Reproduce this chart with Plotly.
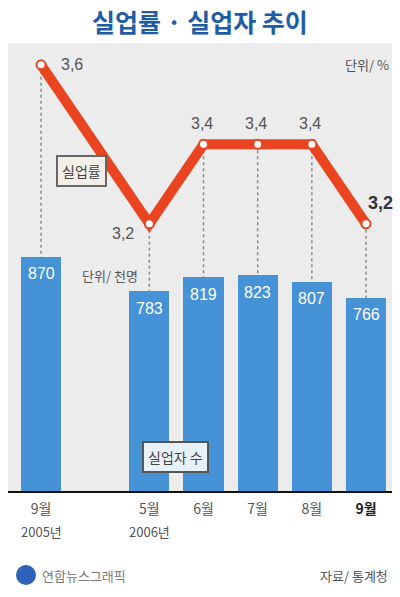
import plotly.graph_objects as go

# ---- data ----
positions = [0, 2, 3, 4, 5, 6]
month_labels = ["9월", "5월", "6월", "7월", "8월", "<b><span style='color:#222222'>9월</span></b>"]
year_labels = ["2005년", "2006년", "", "", "", ""]
unemployed = [870, 783, 819, 823, 807, 766]          # 단위: 천명
rate = [3.6, 3.2, 3.4, 3.4, 3.4, 3.2]                  # 단위: %
rate_text = ["3,6", "3,2", "3,4", "3,4", "3,4", "3,2"]

# ---- axis ranges ----
x_range = [-0.61, 6.48]
y_bar_range = [276, 1413]
y_rate_range = [2.528, 3.655]

KFONT = "Noto Sans CJK KR"
NFONT = "Liberation Sans Narrow, Arial Narrow, Liberation Sans, sans-serif"

W, H = 400, 597
ML, MR, MT, MB = 8, 8, 43, 106
PW, PH = W - ML - MR, H - MT - MB

def px_x(x):
    return (x - ML) / PW

def px_y(y):
    return (H - MB - y) / PH

def bar_to_rate(v):
    lo, hi = y_bar_range
    rlo, rhi = y_rate_range
    return rlo + (v - lo) / (hi - lo) * (rhi - rlo)

fig = go.Figure()

fig.add_trace(go.Bar(
    x=positions, y=unemployed, width=0.74,
    marker=dict(color="#4692d7", line=dict(width=0)),
    hoverinfo="skip", yaxis="y",
))

# dotted guide lines from each rate point down to bar tops
gx, gy = [], []
for p, r, u in zip(positions, rate, unemployed):
    gx += [p, p, None]
    gy += [r, bar_to_rate(u), None]
fig.add_trace(go.Scatter(
    x=gx, y=gy, mode="lines", yaxis="y2",
    line=dict(color="#8a8a8a", width=1.5, dash="dot"),
    hoverinfo="skip",
))

fig.add_trace(go.Scatter(
    x=positions, y=rate, mode="lines+markers", yaxis="y2",
    line=dict(color="#ea4520", width=10),
    marker=dict(size=9, color="white", line=dict(color="#ea4520", width=2)),
    hoverinfo="skip",
))

annotations = []
# bar value labels
for p, u in zip(positions, unemployed):
    annotations.append(dict(
        x=p, y=u, xref="x", yref="y", text=str(u), showarrow=False,
        xanchor="center", yanchor="middle", yshift=-17,
        font=dict(family=NFONT, size=16, color="white"),
    ))

# rate labels
rate_shift = [(31, 0), (-26, -10), (-2, 21), (-2, 21), (-2, 21), (14, 21)]
for i, (p, r, t) in enumerate(zip(positions, rate, rate_text)):
    last = i == len(rate) - 1
    annotations.append(dict(
        x=p, y=r, xref="x", yref="y2",
        text=f"<b>{t}</b>" if last else t, showarrow=False,
        xanchor="center", yanchor="middle",
        xshift=rate_shift[i][0], yshift=rate_shift[i][1],
        font=dict(family=NFONT, size=18 if last else 16,
                  color="#333333" if last else "#555555"),
    ))

# year labels under month ticks
for p, yl in zip(positions, year_labels):
    if yl:
        annotations.append(dict(
            x=p, y=px_y(531), xref="x", yref="paper", text=yl, showarrow=False,
            xanchor="center", yanchor="middle",
            font=dict(family=KFONT, size=13, color="#555555"),
        ))

def txt(x, y, text, size, color, xanchor="center", **kw):
    d = dict(x=px_x(x), y=px_y(y), xref="paper", yref="paper", text=text,
             showarrow=False, xanchor=xanchor, yanchor="middle",
             font=dict(family=KFONT, size=size, color=color))
    d.update(kw)
    return d

annotations += [
    txt(200, 21, "<b>실업률 · 실업자 추이</b>", 25, "#1f5ca6"),
    txt(367, 64, "단위/ %", 13, "#555555"),
    txt(110, 275, "단위/ 천명", 13, "#555555"),
    txt(81, 171, "실업률", 14, "#444444",
        bgcolor="#f4eee8", bordercolor="#666666", borderwidth=2, borderpad=4),
    txt(175, 457, "실업자 수", 14, "#444444",
        bgcolor="#e9f1f8", bordercolor="#555555", borderwidth=2, borderpad=4),
    txt(40, 575, "연합뉴스그래픽", 13, "#7a7a7a", xanchor="left"),
    txt(390, 575, "자료/ 통계청", 13, "#555555", xanchor="right"),
]

# logo circle
shapes = [
    dict(type="circle", xref="paper", yref="paper",
         x0=px_x(16), x1=px_x(36), y0=px_y(585), y1=px_y(565),
         fillcolor="#2d62b8", line=dict(width=0)),
]

fig.update_layout(
    width=W, height=H,
    margin=dict(l=ML, r=MR, t=MT, b=MB),
    paper_bgcolor="white", plot_bgcolor="#ececec",
    showlegend=False, bargap=0,
    xaxis=dict(range=x_range, tickvals=positions, ticktext=month_labels,
               showgrid=False, zeroline=False, showline=True,
               linecolor="#111111", linewidth=2, ticks="outside",
               ticklen=4, tickcolor="rgba(0,0,0,0)",
               tickfont=dict(family=KFONT, size=14, color="#555555"),
               fixedrange=True),
    yaxis=dict(range=y_bar_range, visible=False, showgrid=False, fixedrange=True),
    yaxis2=dict(range=y_rate_range, overlaying="y", visible=False,
                showgrid=False, fixedrange=True),
    annotations=annotations,
    shapes=shapes,
)

fig.write_html("out.html")
